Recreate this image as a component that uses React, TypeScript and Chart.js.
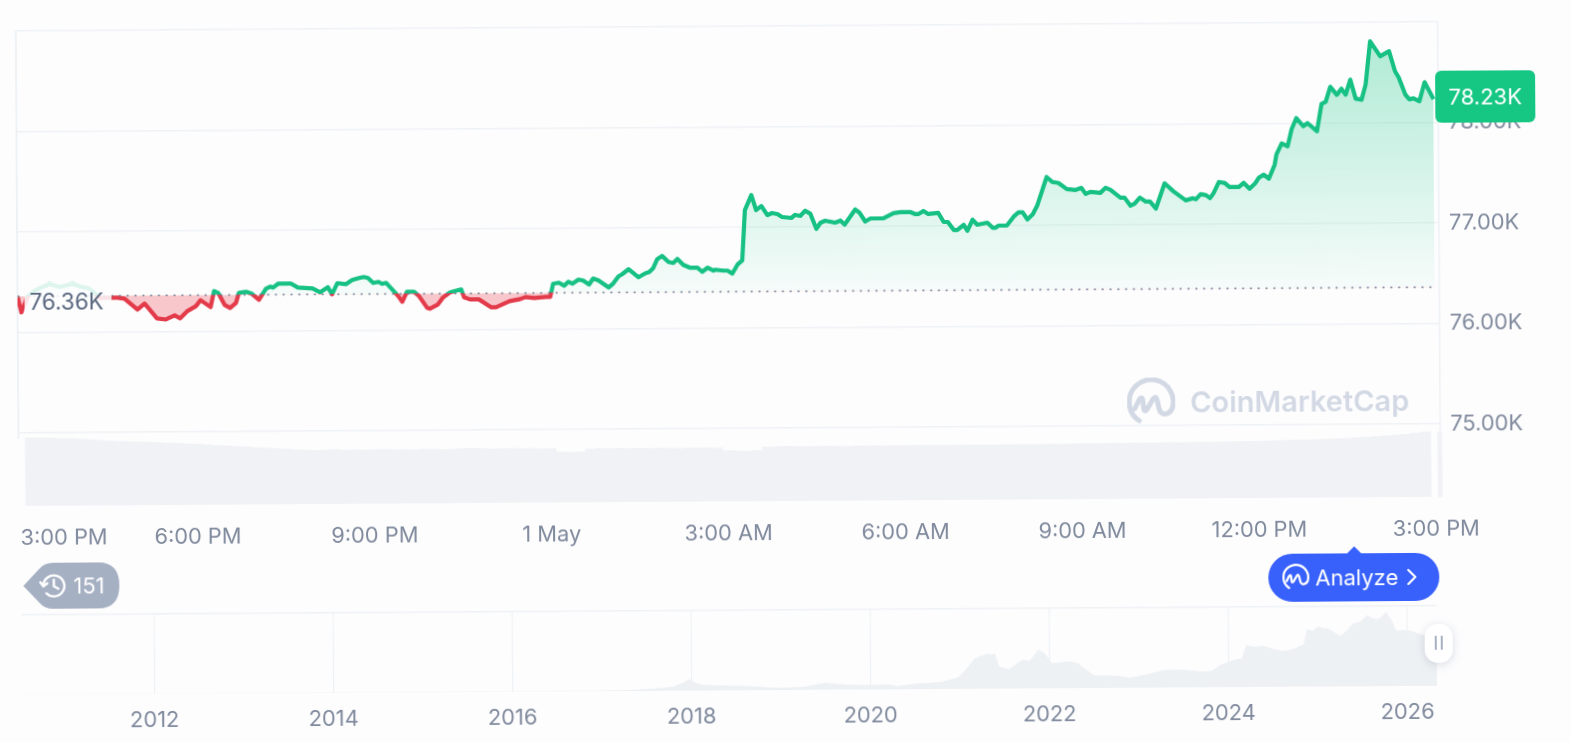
import React, { useEffect, useRef } from "react";
import { Chart, registerables } from "chart.js";

Chart.register(...registerables);

// hours since 3:00 PM
const priceHours = [
  -0.03, 0.03, 0.14, 0.27, 0.39, 0.51, 0.68, 0.9, 1.05, 1.19, 1.36, 1.58, 1.66, 1.78, 2.0, 2.12, 2.33, 2.48, 2.63, 2.72,
  2.84, 2.99, 3.07, 3.24, 3.3, 3.37, 3.48, 3.57, 3.67, 3.72, 3.84, 3.94, 4.06, 4.18, 4.25, 4.3, 4.39, 4.6, 4.72, 4.97,
  5.1, 5.23, 5.3, 5.39, 5.54, 5.64, 5.76, 5.84, 5.91, 6.0, 6.09, 6.15, 6.22, 6.42, 6.49, 6.57, 6.69, 6.77, 6.91, 6.96,
  7.09, 7.18, 7.3, 7.49, 7.54, 7.64, 7.79, 8.0, 8.08, 8.31, 8.49, 8.58, 8.73, 8.93, 9.0, 9.05, 9.15, 9.24, 9.31, 9.38,
  9.48, 9.56, 9.66, 9.73, 9.82, 9.99, 10.07, 10.16, 10.22, 10.33, 10.5, 10.62, 10.68, 10.75, 10.82, 10.9, 11.01, 11.09, 11.16, 11.26,
  11.38, 11.5, 11.58, 11.67, 11.77, 11.8, 11.94, 12.01, 12.09, 12.18, 12.26, 12.31, 12.42, 12.5, 12.59, 12.69, 12.77, 12.86, 12.94, 13.1,
  13.16, 13.25, 13.33, 13.42, 13.52, 13.59, 13.67, 13.84, 13.93, 14.0, 14.18, 14.25, 14.35, 14.44, 14.66, 14.83, 14.95, 15.12, 15.2, 15.25,
  15.34, 15.42, 15.59, 15.68, 15.75, 15.85, 15.91, 16.02, 16.08, 16.17, 16.25, 16.42, 16.51, 16.56, 16.61, 16.75, 16.87, 16.95, 17.02, 17.1,
  17.19, 17.27, 17.43, 17.53, 17.63, 17.77, 17.92, 18.02, 18.09, 18.17, 18.34, 18.43, 18.51, 18.68, 18.75, 18.85, 18.92, 19.01, 19.11, 19.18,
  19.28, 19.43, 19.58, 19.74, 19.79, 19.91, 19.96, 20.04, 20.13, 20.2, 20.26, 20.35, 20.45, 20.53, 20.69, 20.77, 20.87, 20.96, 21.03, 21.11,
  21.2, 21.3, 21.33, 21.42, 21.52, 21.59, 21.67, 21.79, 21.86, 22.02, 22.1, 22.17, 22.25, 22.36, 22.44, 22.51, 22.59, 22.68, 22.78, 22.85,
  22.93, 23.1, 23.25, 23.35, 23.41, 23.52, 23.59, 23.66, 23.76, 23.85, 24.0,
];

// price in thousands of USD
const priceValues = [
  76.35, 76.2, 76.36, 76.42, 76.45, 76.48, 76.45, 76.48, 76.45, 76.43, 76.34, 76.34, 76.34, 76.33, 76.22, 76.28, 76.13, 76.12, 76.16, 76.13,
  76.2, 76.25, 76.31, 76.24, 76.4, 76.38, 76.26, 76.23, 76.28, 76.38, 76.39, 76.37, 76.31, 76.42, 76.44, 76.43, 76.47, 76.47, 76.43, 76.42,
  76.38, 76.43, 76.36, 76.47, 76.46, 76.5, 76.52, 76.53, 76.52, 76.47, 76.48, 76.46, 76.47, 76.34, 76.28, 76.38, 76.38, 76.34, 76.22, 76.21,
  76.25, 76.32, 76.37, 76.4, 76.32, 76.3, 76.3, 76.22, 76.22, 76.28, 76.3, 76.32, 76.31, 76.32, 76.32, 76.45, 76.46, 76.43, 76.47, 76.45,
  76.49, 76.48, 76.44, 76.5, 76.48, 76.41, 76.45, 76.52, 76.54, 76.59, 76.51, 76.55, 76.56, 76.6, 76.69, 76.72, 76.66, 76.65, 76.69, 76.63,
  76.6, 76.6, 76.56, 76.6, 76.57, 76.58, 76.57, 76.57, 76.54, 76.63, 76.67, 77.17, 77.32, 77.17, 77.21, 77.12, 77.14, 77.13, 77.1, 77.09,
  77.12, 77.11, 77.16, 77.13, 76.98, 77.04, 77.06, 77.04, 77.06, 77.02, 77.17, 77.14, 77.05, 77.08, 77.08, 77.13, 77.14, 77.14, 77.12, 77.12,
  77.15, 77.12, 77.13, 77.04, 77.04, 76.96, 76.96, 77.01, 76.95, 77.06, 77.01, 77.03, 76.98, 76.98, 77.0, 77.0, 77.09, 77.13, 77.13, 77.06,
  77.11, 77.2, 77.48, 77.43, 77.42, 77.36, 77.35, 77.37, 77.31, 77.33, 77.32, 77.37, 77.35, 77.27, 77.27, 77.19, 77.21, 77.27, 77.23, 77.23,
  77.16, 77.41, 77.33, 77.26, 77.24, 77.26, 77.25, 77.3, 77.29, 77.26, 77.31, 77.42, 77.41, 77.37, 77.37, 77.41, 77.35, 77.4, 77.46, 77.49,
  77.45, 77.59, 77.69, 77.8, 77.77, 77.94, 78.05, 77.97, 78.0, 77.92, 78.19, 78.21, 78.36, 78.28, 78.34, 78.28, 78.43, 78.24, 78.23, 78.38,
  78.81, 78.66, 78.71, 78.51, 78.45, 78.28, 78.23, 78.24, 78.21, 78.4, 78.23,
];

const openPrice = 76.36;
const lastPrice = 78.23;

// one bar per ten minutes, billions
const volumeValues = [
  34, 34, 33.8, 33.6, 33.5, 33.2, 33, 32.6, 32.2,
  32, 31.8, 31.6, 31.5, 31.2, 31, 30.8, 30.5, 30.3, 30,
  29.6, 29.3, 29, 28.8, 28.4, 28.1, 27.8, 27.5, 27.2, 27,
  26.8, 27, 27.2, 26.9, 27, 26.8, 27, 27.1, 26.9, 27, 26.8, 27.1, 27, 26.8, 27, 27.2, 27.3, 27.2, 27, 27.1, 27.2, 27, 27.1, 26.9, 27,
  25.2, 25, 25.2,
  26.6, 26.8, 26.7, 26.9, 26.7, 26.8, 26.7, 26.9, 26.7, 26.6, 26.8, 26.7, 26.8, 26.6,
  25.3, 25.2, 25, 25.3,
  27, 27.2, 27.3, 27.2, 27.1, 27.2, 27.3, 27.2, 27.1, 27.3,
  27.2, 27.3, 27.2, 27.3, 27.2, 27.3, 27.4, 27.3, 27.2, 27.3, 27.4, 27.3, 27.4, 27.3, 27.4,
  27.4, 27.5, 27.4, 27.5, 27.6, 27.5, 27.6, 27.7, 27.6, 27.7, 27.8, 27.7, 27.8, 27.9, 27.8, 27.9, 28, 27.9, 28, 28.1, 28, 28.1, 28.2, 28.3,
  28.3, 28.4, 28.5, 28.6, 28.7, 28.8, 28.9, 29, 29.2, 29.3,
  29.5, 29.8, 30, 30.3, 30.6, 31, 31.4, 32, 32.5,
];
const lastVolume = 32.5;

const timeTickHours = [0.73, 3, 6, 9, 12, 15, 18, 21, 24];
const timeTickLabels = ["3:00 PM", "6:00 PM", "9:00 PM", "1 May", "3:00 AM", "6:00 AM", "9:00 AM", "12:00 PM", "3:00 PM"];
const priceTicks = [75, 76, 77, 78, 79];

const navYears = [
  2010.52, 2013, 2016, 2016.9, 2017.3, 2017.6, 2017.8, 2017.92, 2017.97, 2018.05, 2018.12, 2018.2, 2018.4, 2018.7, 2018.9, 2019.0, 2019.25,
  2019.4, 2019.5, 2019.6, 2019.8, 2020.0, 2020.2, 2020.3, 2020.5, 2020.68, 2020.8, 2020.98, 2021.07, 2021.16, 2021.22, 2021.3, 2021.36, 2021.39,
  2021.44, 2021.55, 2021.64, 2021.7, 2021.78, 2021.88, 2021.95, 2022.03, 2022.12, 2022.23, 2022.32, 2022.42, 2022.5, 2022.65, 2022.78, 2022.9,
  2023.1, 2023.28, 2023.49, 2023.71, 2023.82, 2023.91, 2024.05, 2024.15, 2024.2, 2024.28, 2024.4, 2024.5, 2024.6, 2024.71, 2024.84, 2024.88, 2024.95,
  2025.0, 2025.07, 2025.13, 2025.25, 2025.32, 2025.4, 2025.47, 2025.55, 2025.62, 2025.68, 2025.73, 2025.76, 2025.82, 2025.88, 2025.95, 2026.04, 2026.15, 2026.33,
];
const navValues = [
  0.5, 0.6, 0.7, 1, 1.5, 4, 7, 14, 19, 13, 10, 9, 8, 6.5, 4, 3.8, 5,
  9, 12, 10, 8, 7.5, 8.5, 5.5, 9, 10.5, 12, 19, 33, 50, 54, 58, 57, 59,
  37, 32, 42, 48, 46, 65, 58, 42, 43, 45, 41, 30, 21, 21, 20, 16.5,
  23, 29, 30, 26, 28, 37, 45, 48, 70, 67, 68, 63, 60, 62, 70, 95, 93,
  100, 97, 96, 84, 92, 105, 107, 118, 113, 112, 118, 124, 112, 92, 93, 92, 86, 78,
];
const navTickYears = [2012, 2014, 2016, 2018, 2020, 2022, 2024, 2026];

const tickColor = "#808a9d";
const gridColor = "#eff2f5";
const green = "#17c184";
const red = "#e33b4a";
const volumeColor = "#f0f2f5";

// Plot frames inside each canvas
const MAIN = { w: 1571, h: 565, left: 18, right: 1440, top: 26, bottom: 501 };
const NAV = { w: 1571, h: 148, left: 20, right: 1435, top: 15, bottom: 95 };
const priceMin = 74.274;
const priceMax = 79;

const font = { family: "Inter", size: 21.8 };

function priceY(v: number) {
  return MAIN.top + ((priceMax - v) / (priceMax - priceMin)) * (MAIN.bottom - MAIN.top);
}

const Logo = ({ size, color, width }: { size: number; color: string; width: number }) => (
  <svg width={size} height={size} viewBox="0 0 48 48" fill="none" stroke={color} strokeWidth={width} strokeLinecap="round" strokeLinejoin="round" style={{ display: "block" }}>
    <path d="M12 43 C4 38 2 30 2 24 A22 22 0 1 1 44.5 32 C41 37 36 38 33 34 C31 31 31 25 29.5 21.5 C28.5 19 27 19.5 25.5 22 L20 31.5 C18.5 34 17 33.5 16.5 31 L15.5 22 C15 19.5 13.5 19.5 12 22 L7.5 31" />
  </svg>
);

export default function App() {
  const mainRef = useRef<HTMLCanvasElement>(null);
  const navRef = useRef<HTMLCanvasElement>(null);

  useEffect(() => {
    const mainCanvas = mainRef.current!;
    const navCanvas = navRef.current!;
    const ctx = mainCanvas.getContext("2d")!;

    const baseY = priceY(openPrice);
    const stop = baseY / MAIN.h;
    const lineGradient = ctx.createLinearGradient(0, 0, 0, MAIN.h);
    lineGradient.addColorStop(0, green);
    lineGradient.addColorStop(stop, green);
    lineGradient.addColorStop(stop, red);
    lineGradient.addColorStop(1, red);

    const aboveGradient = ctx.createLinearGradient(0, priceY(78.81), 0, baseY);
    aboveGradient.addColorStop(0, "rgba(22,199,132,0.33)");
    aboveGradient.addColorStop(1, "rgba(22,199,132,0.03)");

    const main = new Chart(mainCanvas, {
      type: "line",
      data: {
        datasets: [
          {
            label: "Open",
            data: [
              { x: priceHours[0], y: openPrice },
              { x: 24, y: openPrice },
            ],
            borderColor: "#6b778c",
            borderWidth: 1.6,
            borderDash: [1.6, 6.2],
            pointRadius: 0,
            fill: false,
            order: 0,
            yAxisID: "y",
          },
          {
            label: "Price",
            data: priceHours.map((x, i) => ({ x, y: priceValues[i] })),
            borderColor: lineGradient,
            borderWidth: 4.2,
            borderJoinStyle: "round",
            pointRadius: 0,
            tension: 0,
            fill: { target: { value: openPrice }, above: aboveGradient, below: "rgba(233,60,74,0.28)" },
            order: 1,
            yAxisID: "y",
          },
          {
            type: "bar",
            label: "Volume",
            data: volumeValues.map((y, i) => ({ x: (i + 1) / 6, y })),
            backgroundColor: volumeColor,
            barThickness: 9.81,
            grouped: false,
            order: 3,
            yAxisID: "v",
          },
          {
            type: "bar",
            label: "Volume now",
            data: [{ x: 24.07, y: lastVolume }],
            backgroundColor: volumeColor,
            barThickness: 4,
            grouped: false,
            clip: false,
            order: 3,
            yAxisID: "v",
          },
        ] as any,
      },
      options: {
        animation: false,
        responsive: false,
        events: [],
        layout: { padding: { left: MAIN.left, top: MAIN.top, right: 0, bottom: 0 } },
        plugins: { legend: { display: false }, tooltip: { enabled: false } },
        scales: {
          x: {
            type: "linear",
            offset: false,
            min: -0.034,
            max: 24.08,
            grid: { display: false, offset: false },
            border: { display: false },
            afterBuildTicks: (s: any) => {
              s.ticks = timeTickHours.map((value) => ({ value }));
            },
            afterFit: (s: any) => {
              s.height = MAIN.h - MAIN.bottom;
            },
            ticks: {
              autoSkip: false,
              maxRotation: 0,
              color: tickColor,
              font,
              padding: 11,
              callback: (_v: any, i: number) => timeTickLabels[i],
            },
          },
          y: {
            type: "linear",
            position: "right",
            min: priceMin,
            max: priceMax,
            grid: { color: gridColor, lineWidth: 1.6, drawTicks: false },
            border: { color: gridColor, width: 1.6 },
            afterBuildTicks: (s: any) => {
              s.ticks = priceTicks.map((value) => ({ value }));
            },
            afterFit: (s: any) => {
              s.width = MAIN.w - MAIN.right;
            },
            ticks: {
              color: tickColor,
              font,
              padding: 10,
              callback: (v: any) => (v === 79 ? "" : `${Number(v).toFixed(2)}K`),
            },
          },
          v: { type: "linear", display: false, min: 0, max: 237.5 },
        },
      } as any,
    });

    const nav = new Chart(navCanvas, {
      type: "line",
      data: {
        datasets: [
          {
            label: "History",
            data: navYears.map((x, i) => ({ x, y: navValues[i] })),
            borderWidth: 0,
            pointRadius: 0,
            tension: 0,
            fill: { target: "origin" },
            backgroundColor: "#eef1f4",
          },
        ] as any,
      },
      options: {
        animation: false,
        responsive: false,
        events: [],
        layout: { padding: { left: NAV.left, right: NAV.w - NAV.right, top: NAV.top, bottom: 0 } },
        plugins: { legend: { display: false }, tooltip: { enabled: false } },
        scales: {
          x: {
            type: "linear",
            min: 2010.52,
            max: 2026.33,
            grid: { color: gridColor, lineWidth: 1.2, drawTicks: false },
            border: { display: false },
            afterBuildTicks: (s: any) => {
              s.ticks = navTickYears.map((value) => ({ value }));
            },
            afterFit: (s: any) => {
              s.height = NAV.h - NAV.bottom;
            },
            ticks: {
              autoSkip: false,
              maxRotation: 0,
              color: tickColor,
              font,
              padding: 13,
              callback: (v: any) => String(v),
            },
          },
          y: {
            type: "linear",
            min: 0,
            max: 133,
            grid: { color: gridColor, lineWidth: 1.4, drawTicks: false },
            border: { display: false },
            afterBuildTicks: (s: any) => {
              s.ticks = [{ value: 133 }];
            },
            afterFit: (s: any) => {
              s.width = 0;
            },
            ticks: { display: false },
          },
        },
      } as any,
    });

    return () => {
      main.destroy();
      nav.destroy();
    };
  }, []);

  const baseLabelTop = priceY(openPrice) + 6;

  return (
    <div style={{ position: "fixed", left: 0, top: 0, width: 1571, height: 743, overflow: "hidden", background: "#fdfdfe" }}>
      <div
        style={{
          position: "absolute",
          left: 0,
          top: 0,
          width: 1571,
          height: 743,
          transform: "rotate(-0.37deg)",
          transformOrigin: "785px 371px",
          fontFamily: "Inter, sans-serif",
        }}
      >
        <div style={{ position: "absolute", left: 17, top: 26, width: 1.6, height: 408, background: gridColor }} />
        <canvas ref={mainRef} width={MAIN.w} height={MAIN.h} style={{ position: "absolute", left: 0, top: 0, width: MAIN.w, height: MAIN.h }} />
        <canvas ref={navRef} width={NAV.w} height={NAV.h} style={{ position: "absolute", left: 0, top: 595, width: NAV.w, height: NAV.h }} />

        {/* Watermark */}
        <div style={{ position: "absolute", left: 1127, top: 380, display: "flex", alignItems: "center", gap: 15 }}>
          <Logo size={48} color="#d3d9e4" width={5} />
          <span style={{ color: "#d3d9e4", fontSize: 29, fontWeight: 600, letterSpacing: 0 }}>CoinMarketCap</span>
        </div>

        {/* Open price label */}
        <div
          style={{
            position: "absolute",
            left: 25,
            top: baseLabelTop - 20,
            height: 40,
            lineHeight: "40px",
            padding: "0 8px 0 5px",
            fontSize: 22.4,
            color: "#58667e",
            background: "rgba(253,253,254,0.86)",
          }}
        >
          76.36K
        </div>

        {/* Last price badge */}
        <div
          style={{
            position: "absolute",
            left: 1437,
            top: 75,
            width: 100,
            height: 52,
            lineHeight: "52px",
            borderRadius: 6,
            background: "#16c784",
            color: "#fff",
            fontSize: 22,
            textAlign: "center",
          }}
        >
          {lastPrice.toFixed(2)}K
        </div>

        {/* History pill */}
        <div style={{ position: "absolute", left: 22, top: 558, width: 98, height: 46 }}>
          <svg width={98} height={46} style={{ position: "absolute", left: 0, top: 0 }}>
            <path d="M0 23 L16 6 Q21 0 30 0 L75 0 Q96 0 96 23 Q96 46 75 46 L30 46 Q21 46 16 40 Z" fill="#a6b0c3" />
            <g fill="none" stroke="#fff" strokeWidth={2.4} strokeLinecap="round" strokeLinejoin="round">
              <path d="M20 23 A10.5 10.5 0 1 1 23 30.5" />
              <path d="M17 19.5 L20 23.5 L24 20.5" />
              <path d="M30.5 17 V23.5 L35 26" />
            </g>
          </svg>
          <span style={{ position: "absolute", left: 50, top: 0, lineHeight: "46px", color: "#fff", fontSize: 22 }}>151</span>
        </div>

        {/* Analyze button */}
        <div style={{ position: "absolute", left: 1267, top: 557, width: 171, height: 48, borderRadius: 24, background: "#3861fb", color: "#fff" }}>
          <div
            style={{
              position: "absolute",
              left: 78,
              top: -7,
              width: 0,
              height: 0,
              borderLeft: "8px solid transparent",
              borderRight: "8px solid transparent",
              borderBottom: "8px solid #3861fb",
            }}
          />
          <div style={{ position: "absolute", left: 14, top: 10 }}>
            <Logo size={27} color="#fff" width={4} />
          </div>
          <span style={{ position: "absolute", left: 47, top: 0, lineHeight: "48px", fontSize: 22 }}>Analyze</span>
          <svg width={14} height={20} style={{ position: "absolute", left: 137, top: 14 }} fill="none" stroke="#fff" strokeWidth={2.2} strokeLinecap="round" strokeLinejoin="round">
            <path d="M3 3 L10 10 L3 17" />
          </svg>
        </div>

        {/* Range handle */}
        <div
          style={{
            position: "absolute",
            left: 1423,
            top: 628,
            width: 28,
            height: 39,
            borderRadius: 13,
            background: "#fff",
            boxShadow: "0 2px 10px rgba(88,102,126,0.22)",
          }}
        >
          <div style={{ position: "absolute", left: 10, top: 12, width: 2, height: 14, background: "#a6b0c3" }} />
          <div style={{ position: "absolute", left: 16, top: 12, width: 2, height: 14, background: "#a6b0c3" }} />
        </div>
      </div>
    </div>
  );
}
